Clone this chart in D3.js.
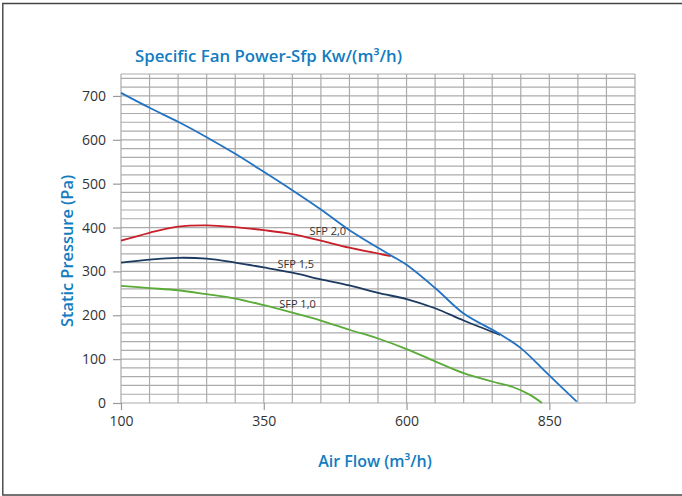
<!DOCTYPE html>
<html>
<head>
<meta charset="utf-8">
<script src="https://cdn.jsdelivr.net/npm/d3@7"></script>
<style>
	html, body { margin: 0; padding: 0; background: #fff; }
	svg { display: block; }
</style>
</head>
<body>
<div id="chart"></div>
<script>

// axis ticks
var xTicks = [100, 350, 600, 850];
var yTicks = [0, 100, 200, 300, 400, 500, 600, 700];

// max fan curve
var maxFlow = [100, 150, 200, 250, 300, 350, 400, 450, 500, 572, 600, 651, 700, 761, 800, 849, 898];
var maxPres = [707, 673, 641, 606, 568, 527, 485, 441, 394, 337, 315, 261, 204, 159, 125, 64, 3];

// SFP 2,0
var sfp20Flow = [100, 150, 200, 250, 300, 350, 400, 450, 500, 572];
var sfp20Pres = [370, 388, 402, 405, 401, 394, 385, 370, 354, 335];

// SFP 1,5
var sfp15Flow = [100, 150, 200, 250, 300, 350, 400, 450, 500, 550, 600, 650, 700, 764];
var sfp15Pres = [320, 327, 331, 329, 320, 309, 297, 282, 268, 251, 237, 216, 188, 155];

// SFP 1,0
var sfp10Flow = [100, 150, 200, 250, 300, 350, 400, 450, 500, 550, 600, 650, 700, 750, 785, 817, 837];
var sfp10Pres = [267, 262, 257, 248, 238, 223, 206, 188, 167, 147, 123, 95, 68, 49, 37, 18, 0];

var labelText = ["SFP 2,0", "SFP 1,5", "SFP 1,0"];
var labelFlow = [430, 374, 377];
var labelPres = [382, 307, 217];

var W = 682, H = 496;
var plot = { left: 121, right: 635, top: 74, bottom: 403 };

var svg = d3.select("#chart").append("svg")
	.attr("width", W)
	.attr("height", H);

// outer frame (open on the right side)
svg.append("path")
	.attr("d", "M " + W + " 3.5 H 2.8 V 495 H " + W)
	.attr("fill", "none")
	.attr("stroke", "#444")
	.attr("stroke-width", 1.4);

var x = d3.scaleLinear().domain([100, 1000]).range([plot.left, plot.right]);
var y = d3.scaleLinear().domain([0, 750]).range([plot.bottom, plot.top]);

// grid
var grid = svg.append("g").attr("stroke", "#ababab").attr("stroke-width", 1.2);

grid.selectAll("line.h")
	.data(d3.range(0, 751, 20).concat([750]))
	.enter().append("line")
	.attr("x1", plot.left).attr("x2", plot.right)
	.attr("y1", function(d) { return y(d); })
	.attr("y2", function(d) { return y(d); });

grid.selectAll("line.v")
	.data(d3.range(100, 1001, 50))
	.enter().append("line")
	.attr("y1", plot.top).attr("y2", plot.bottom)
	.attr("x1", function(d) { return x(d); })
	.attr("x2", function(d) { return x(d); });

// axes
var xAxis = d3.axisBottom(x).tickValues(xTicks).tickSize(7).tickPadding(6);
var yAxis = d3.axisLeft(y).tickValues(yTicks).tickSize(8).tickPadding(7);

var gx = svg.append("g").attr("transform", "translate(0," + plot.bottom + ")").call(xAxis);
var gy = svg.append("g").attr("transform", "translate(" + plot.left + ",0)").call(yAxis);

[gx, gy].forEach(function(g) {
	g.select(".domain").remove();
	g.selectAll(".tick line").attr("stroke", "#999").attr("stroke-width", 1.2);
	g.selectAll(".tick text")
		.attr("fill", "#333")
		.style("font-family", "'Open Sans', sans-serif")
		.style("font-size", "14px");
});

// curves
var line = d3.line()
	.x(function(d) { return x(d[0]); })
	.y(function(d) { return y(d[1]); })
	.curve(d3.curveCatmullRom.alpha(0.5));

var series = [
	{ flow: sfp10Flow, pres: sfp10Pres, color: "#5aab38" },
	{ flow: sfp15Flow, pres: sfp15Pres, color: "#1d3a60" },
	{ flow: sfp20Flow, pres: sfp20Pres, color: "#c8202a" },
	{ flow: maxFlow, pres: maxPres, color: "#2473c2" }
];

svg.selectAll("path.curve")
	.data(series)
	.enter().append("path")
	.attr("class", "curve")
	.attr("fill", "none")
	.attr("stroke", function(d) { return d.color; })
	.attr("stroke-width", 1.8)
	.attr("d", function(d) { return line(d3.zip(d.flow, d.pres)); });

// curve labels
svg.selectAll("text.sfp")
	.data(labelText)
	.enter().append("text")
	.attr("class", "sfp")
	.attr("x", function(d, i) { return x(labelFlow[i]); })
	.attr("y", function(d, i) { return y(labelPres[i]); })
	.attr("fill", "#333")
	.style("font-family", "'Open Sans', sans-serif")
	.style("font-size", "11px")
	.text(function(d) { return d; });

// titles
var blue = "#127cc0";

svg.append("text")
	.attr("x", 135)
	.attr("y", 62)
	.attr("fill", blue)
	.style("font-family", "'Open Sans', sans-serif")
	.style("font-weight", 600)
	.style("font-size", "16.8px")
	.text("Specific Fan Power-Sfp Kw/(m³/h)");

svg.append("text")
	.attr("x", 375)
	.attr("y", 467)
	.attr("text-anchor", "middle")
	.attr("fill", blue)
	.style("font-family", "'Open Sans', sans-serif")
	.style("font-weight", 600)
	.style("font-size", "16px")
	.text("Air Flow (m³/h)");

svg.append("text")
	.attr("transform", "translate(73,251) rotate(-90)")
	.attr("text-anchor", "middle")
	.attr("fill", blue)
	.style("font-family", "'Open Sans', sans-serif")
	.style("font-weight", 600)
	.style("font-size", "16.4px")
	.text("Static Pressure (Pa)");

</script>
</body>
</html>
